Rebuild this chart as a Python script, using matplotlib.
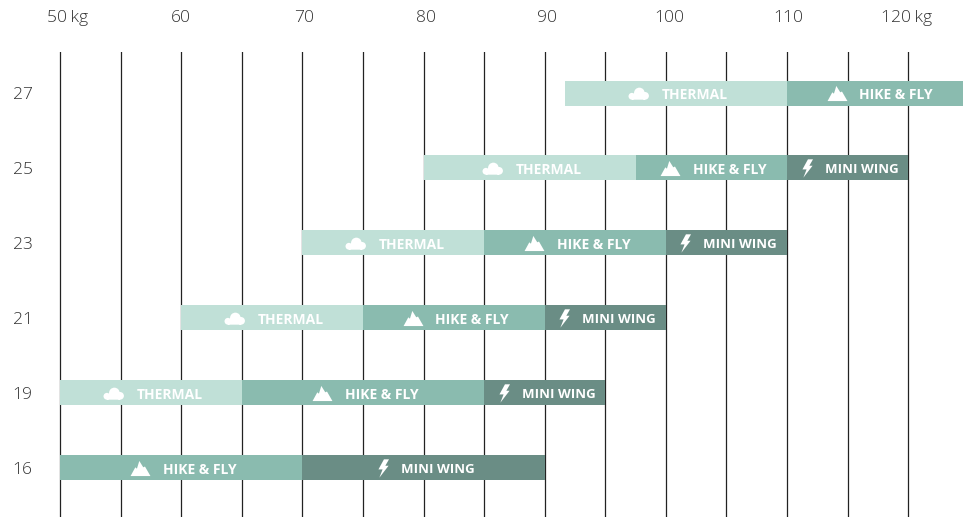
import matplotlib
matplotlib.use("Agg")
import matplotlib.pyplot as plt
from matplotlib.path import Path

# --- data ---
sizes = ["16", "19", "21", "23", "25", "27"]
thermal_start = [None, 50, 60, 70, 80, 91.7]
hike_start = [50, 65, 75, 85, 97.5, 110]
mini_start = [70, 85, 90, 100, 110, 125]
mini_end = [90, 95, 100, 110, 120, 125]
major_ticks = [50, 60, 70, 80, 90, 100, 110, 120]
minor_ticks = [55, 65, 75, 85, 95, 105, 115]
categories = ["THERMAL", "HIKE & FLY", "MINI WING"]
colors = {"THERMAL": "#c0e0d7", "HIKE & FLY": "#8abbaf", "MINI WING": "#6a8d85"}

W, H = 963, 517
PX = 12.114
TOP = 52
ROW = 74.9

plt.rcParams["font.family"] = ["Open Sans", "DejaVu Sans"]
fig = plt.figure(figsize=(W / 100, H / 100), dpi=100)
ax = fig.add_axes([0, 0, 1, (H - TOP) / H])
ax.set_xlim(50 - 60.1 / PX, 50 + (W - 60.1) / PX)
ax.set_ylim(-(H - 467.5) / ROW, 5 + (93 - TOP) / ROW)
for s in ax.spines.values():
    s.set_visible(False)
ax.set_xticks(major_ticks + minor_ticks)
ax.set_xticklabels([])
ax.set_yticks([])
ax.tick_params(length=0)
ax.grid(True, axis="x", color="#222222", lw=0.9)
ax.set_axisbelow(True)

# --- icons (unit shapes, drawn as markers) ---
cloud = Path.make_compound_path(
    Path.circle((-0.62, -0.26), 0.32),
    Path.circle((0.08, 0.05), 0.50),
    Path.circle((0.62, -0.22), 0.36),
    Path([(-0.62, -0.58), (0.62, -0.58), (0.62, -0.1), (-0.62, -0.1), (-0.62, -0.58)]),
)
mountain = Path([(-1, -0.76), (-0.52, 0.12), (-0.36, -0.02), (-0.12, 0.76), (0.28, 0.12),
                 (0.45, 0.2), (1, -0.76), (-1, -0.76)], closed=True)
bolt = Path([(0.05, 1), (0.6, 1), (0.2, 0.3), (0.55, 0.3), (-0.45, -1), (-0.1, -0.1),
             (-0.55, -0.1), (0.05, 1)], closed=True)
icons = {"THERMAL": (cloud, 225), "HIKE & FLY": (mountain, 205), "MINI WING": (bolt, 175)}
icon_dx = {"THERMAL": -38, "HIKE & FLY": -41, "MINI WING": -41}
text_dx = {"THERMAL": 19, "HIKE & FLY": 18.5, "MINI WING": 14}
text_size = {"THERMAL": 10, "HIKE & FLY": 10, "MINI WING": 9.5}

# --- bars ---
for i, size in enumerate(sizes):
    edges = {
        "THERMAL": (thermal_start[i], hike_start[i]),
        "HIKE & FLY": (hike_start[i], mini_start[i]),
        "MINI WING": (mini_start[i], mini_end[i]),
    }
    for cat in categories:
        a, b = edges[cat]
        if a is None or b <= a:
            continue
        ax.barh(i, b - a, left=a, height=25 / ROW, color=colors[cat], lw=0, zorder=3)
        c = (a + b) / 2
        path, area = icons[cat]
        ax.scatter([c + icon_dx[cat] / PX], [i], marker=path, s=area,
                   color="white", lw=0, zorder=4)
        ax.text(c + text_dx[cat] / PX, i - 2 / ROW, cat, color="white", fontsize=text_size[cat],
                fontweight="bold", ha="center", va="center", zorder=4)
    ax.text(ax.get_xlim()[0] + 22.5 / PX, i - 2 / ROW, size, color="#333333", fontsize=12.6,
            fontweight="light", ha="center", va="center")

# --- weight labels above the grid ---
label_dx = {50: 0.6, 60: 0.0, 70: 0.1, 80: 0.2, 90: 0.2, 100: 0.3, 110: 0.1, 120: -0.1}
for v in major_ticks:
    label = f"{v}\u2009kg" if v in (50, 120) else str(v)
    ax.text(v + label_dx[v], 5 + (93 - 18) / ROW, label, color="#333333", fontsize=12.6,
            fontweight="light", ha="center", va="center", clip_on=False)

fig.savefig("out.png", dpi=100)
